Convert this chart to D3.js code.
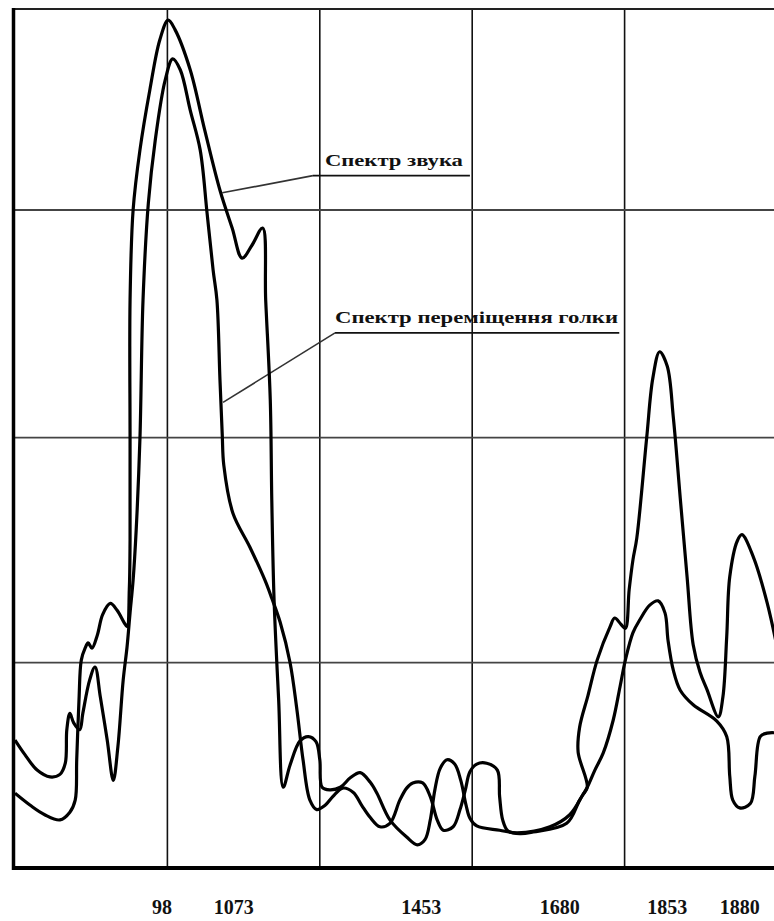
<!DOCTYPE html>
<html>
<head>
<meta charset="utf-8">
<script src="https://cdn.jsdelivr.net/npm/d3@7/dist/d3.min.js"></script>
<style>
  body { margin: 0; background: #fff; }
  svg { display: block; }
</style>
</head>
<body>
<div id="chart"></div>
<script>
// curve points, [x, y] in plot units (0..100 across, 0..100 up)
const soundSpectrum = [
  [0, 8.7], [2.0, 7.3], [3.9, 6.2], [5.9, 5.6], [7.2, 6.5], [7.9, 7.9], [8.1, 12.6],
  [8.4, 19.6], [8.7, 24.2], [9.2, 25.6], [9.6, 26.2], [10.1, 25.6], [10.8, 27.1],
  [11.5, 29.5], [12.5, 30.8], [13.4, 30.0], [14.3, 28.6], [14.7, 28.1], [15.0, 32.4],
  [15.1, 38.2], [15.1, 50.1], [15.1, 66.1], [15.5, 76.6], [16.4, 83.6], [17.7, 90.6],
  [19.0, 96.4], [20.1, 98.7], [21.0, 97.6], [23.0, 92.9], [24.9, 85.9], [26.9, 78.9],
  [28.5, 74.5], [29.8, 71.0], [31.1, 72.5], [32.5, 74.5], [32.9, 66.1], [33.5, 54.5],
  [33.7, 42.8], [34.0, 31.2], [34.6, 19.6], [35.2, 9.4], [36.1, 12.0], [37.4, 14.8],
  [38.5, 15.3], [39.5, 14.7], [40.0, 12.6], [40.3, 9.4], [41.3, 9.1], [42.7, 9.4],
  [44.0, 10.5], [45.3, 11.1], [46.6, 10.0], [47.5, 8.7], [49.2, 5.6], [51.4, 3.6],
  [52.8, 2.7], [53.8, 3.3], [54.5, 5.6], [55.1, 9.1], [55.8, 11.6], [56.7, 12.6],
  [57.7, 12.1], [58.5, 10.2], [59.2, 7.3], [59.7, 5.8], [60.6, 4.9], [63.6, 4.4],
  [65.9, 4.1], [70.2, 4.8], [72.8, 6.2], [74.5, 8.5], [75.1, 9.4], [73.9, 13.5],
  [74.1, 16.4], [75.2, 20.1], [76.4, 24.2], [78.1, 28.1], [78.7, 29.1], [79.5, 28.4],
  [80.1, 27.9], [80.6, 32.4], [81.1, 35.9], [81.6, 38.4], [82.9, 50.1], [83.7, 57.0],
  [84.6, 60.1], [85.6, 58.4], [86.4, 52.4], [87.3, 43.1], [88.2, 33.9], [89.0, 26.0],
  [89.9, 22.8], [90.8, 20.8], [92.3, 17.6], [92.9, 19.9], [93.4, 26.9], [93.8, 33.9],
  [94.8, 38.1], [95.4, 38.8], [96.9, 36.2], [98.7, 30.9], [100.4, 24.0]
];

const needleSpectrum = [
  [0, 14.9], [1.3, 13.2], [2.9, 11.4], [4.6, 10.6], [5.9, 10.9], [6.6, 12.2], [6.8, 16.1],
  [7.2, 18.0], [7.7, 16.9], [8.5, 16.1], [8.9, 18.0], [9.8, 21.9], [10.5, 23.4],
  [11.2, 19.9], [12.1, 14.9], [12.9, 10.2], [13.5, 14.1], [14.2, 21.9], [14.7, 25.7],
  [15.1, 29.7], [15.5, 33.5], [15.9, 39.3], [16.4, 50.1], [16.8, 66.1], [17.5, 77.4],
  [18.4, 84.7], [19.7, 91.7], [20.7, 94.2], [21.7, 92.9], [23.0, 88.2], [24.3, 83.6],
  [25.2, 76.3], [26.0, 69.6], [26.5, 66.1], [26.9, 56.8], [27.2, 50.4], [27.4, 46.9],
  [28.6, 41.3], [30.8, 37.4], [32.8, 33.5], [33.7, 31.4], [34.8, 28.6], [36.1, 23.9],
  [37.0, 18.4], [37.8, 12.6], [38.7, 7.9], [39.6, 6.8], [40.7, 7.3], [41.7, 8.3],
  [43.0, 9.3], [44.4, 8.8], [45.5, 7.3], [46.6, 5.9], [47.9, 4.8], [49.2, 5.2],
  [50.5, 7.9], [51.4, 9.3], [52.2, 9.9], [53.5, 9.9], [54.5, 8.3], [55.4, 5.6],
  [56.2, 4.4], [57.5, 4.8], [58.4, 6.8], [59.1, 9.1], [59.7, 11.2], [60.6, 12.1],
  [61.9, 12.2], [63.3, 11.4], [63.6, 8.3], [64.0, 5.6], [64.7, 4.3], [66.3, 4.0],
  [68.0, 4.2], [72.4, 5.2], [74.1, 7.9], [75.1, 9.4], [76.1, 11.4], [77.2, 13.4],
  [78.5, 17.2], [79.4, 21.1], [80.1, 24.2], [81.1, 27.4], [82.0, 28.9], [83.3, 30.6],
  [84.4, 31.1], [85.3, 29.7], [85.7, 26.5], [86.4, 23.0], [87.3, 20.7], [89.0, 19.0],
  [92.1, 17.1], [93.4, 15.3], [93.8, 10.7], [94.2, 7.9], [95.1, 7.0], [96.5, 7.5],
  [97.1, 10.7], [97.8, 15.3], [98.7, 15.7], [100.4, 15.7]
];

const xTickLabels = ["98", "1073", "1453", "1680", "1853", "1880"];
const xTickPos = [19.3, 28.7, 53.3, 71.5, 85.6, 95.1];

const xGrid = [20, 40, 60, 80];
const yGrid = [23.9, 50.1, 76.6];

// callout: label text, point on curve, start/end of the underline
const calloutText = ["Спектр звука", "Спектр переміщення голки"];
const calloutTarget = [[27.2, 78.6], [27.3, 54.2]];
const calloutLine = [[[39.1, 80.6], [59.7, 80.6]], [[42.0, 62.3], [79.3, 62.3]]];

const W = 774, H = 921;

const svg = d3.select("#chart").append("svg")
    .attr("width", W)
    .attr("height", H)
    .style("background", "#fff");

const x = d3.scaleLinear().domain([0, 100]).range([15, 777]);
const y = d3.scaleLinear().domain([0, 100]).range([868, 9]);

svg.append("defs").append("clipPath")
    .attr("id", "plot")
    .append("rect")
    .attr("x", x(0))
    .attr("y", y(100))
    .attr("width", W - x(0))
    .attr("height", y(0) - y(100));

// grid
svg.append("g").selectAll("line")
    .data(xGrid)
    .join("line")
    .attr("x1", d => x(d)).attr("x2", d => x(d))
    .attr("y1", y(100)).attr("y2", y(0))
    .attr("stroke", "#111")
    .attr("stroke-width", 1.6);

svg.append("g").selectAll("line")
    .data(yGrid)
    .join("line")
    .attr("x1", x(0)).attr("x2", W)
    .attr("y1", d => y(d)).attr("y2", d => y(d))
    .attr("stroke", "#444")
    .attr("stroke-width", 1.8);

// top border
svg.append("line")
    .attr("x1", x(0)).attr("x2", W)
    .attr("y1", y(100)).attr("y2", y(100))
    .attr("stroke", "#222")
    .attr("stroke-width", 2);

// callout leaders and underlines
calloutText.forEach((t, i) => {
    const [a, b] = calloutLine[i];
    svg.append("line")
        .attr("x1", x(calloutTarget[i][0])).attr("y1", y(calloutTarget[i][1]))
        .attr("x2", x(a[0])).attr("y2", y(a[1]))
        .attr("stroke", "#333")
        .attr("stroke-width", 1.6);
    svg.append("line")
        .attr("x1", x(a[0])).attr("y1", y(a[1]))
        .attr("x2", x(b[0])).attr("y2", y(b[1]))
        .attr("stroke", "#111")
        .attr("stroke-width", 1.8);
});

const line = d3.line()
    .x(d => x(d[0]))
    .y(d => y(d[1]))
    .curve(d3.curveCatmullRom.alpha(0.5));

svg.append("g")
    .attr("clip-path", "url(#plot)")
    .selectAll("path")
    .data([soundSpectrum, needleSpectrum])
    .join("path")
    .attr("d", line)
    .attr("fill", "none")
    .attr("stroke", "#000")
    .attr("stroke-width", 3.2)
    .attr("stroke-linejoin", "round");

// axes frame
svg.append("line")
    .attr("x1", x(0) - 1.5).attr("x2", x(0) - 1.5)
    .attr("y1", y(100) - 1).attr("y2", y(0) + 2)
    .attr("stroke", "#000")
    .attr("stroke-width", 3.5);

svg.append("line")
    .attr("x1", x(0) - 3).attr("x2", W)
    .attr("y1", y(0)).attr("y2", y(0))
    .attr("stroke", "#000")
    .attr("stroke-width", 4);

// callout labels
const calloutWidth = [138, 283];
calloutText.forEach((t, i) => {
    const a = calloutLine[i][0];
    svg.append("text")
        .attr("x", x(a[0]) + (i === 0 ? 12 : 0))
        .attr("y", y(a[1]) - 10)
        .attr("font-family", "'Liberation Serif', 'DejaVu Serif', serif")
        .attr("font-weight", "bold")
        .attr("font-size", 16)
        .attr("textLength", calloutWidth[i])
        .attr("lengthAdjust", "spacingAndGlyphs")
        .attr("fill", "#111")
        .text(t);
});

// bottom labels
svg.append("g").selectAll("text")
    .data(xTickLabels)
    .join("text")
    .attr("x", (d, i) => x(xTickPos[i]))
    .attr("y", 914)
    .attr("text-anchor", "middle")
    .attr("font-family", "'Liberation Serif', serif")
    .attr("font-weight", "bold")
    .attr("font-size", 20)
    .attr("fill", "#111")
    .text(d => d);
</script>
</body>
</html>
